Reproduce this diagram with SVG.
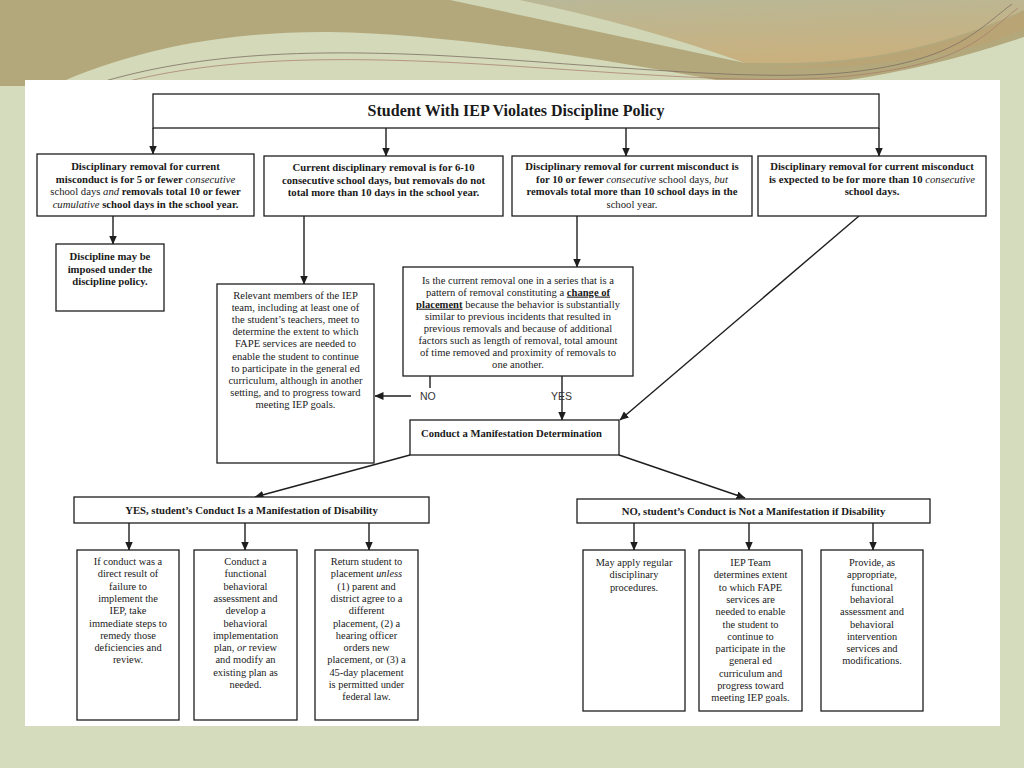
<svg xmlns="http://www.w3.org/2000/svg" width="1024" height="768" viewBox="0 0 1024 768">
<style>
.box{fill:#fff;stroke:#1e1e1e;stroke-width:1.3}
.t{font-family:"Liberation Serif","Times New Roman",serif;font-size:10.4px;fill:#1a1a1a;text-anchor:middle}
.r1{font-size:10.7px}
.b{font-weight:bold}
.i{font-style:italic;font-weight:normal}
.n{font-weight:normal}
.u{text-decoration:underline}
.lbl{font-family:"Liberation Sans",Arial,sans-serif;font-size:10.5px;fill:#333}
.c{stroke:#1e1e1e;stroke-width:1.4;fill:none}
</style>
<defs>
<marker id="ah" markerWidth="9" markerHeight="8" refX="8.5" refY="4" orient="auto" markerUnits="userSpaceOnUse">
<path d="M0,0 L9,4 L0,8 Z" fill="#1e1e1e"/>
</marker>
<linearGradient id="gold" x1="0" y1="0" x2="0.3" y2="1">
<stop offset="0" stop-color="#b8b898"/>
<stop offset="1" stop-color="#c9b17f"/>
</linearGradient>
</defs>
<!-- background -->
<rect x="0" y="0" width="1024" height="768" fill="#d5dbbd"/>
<path d="M0,0 H1024 V37 C950,62 880,78 800,86 L0,86 Z" fill="#b3a87c"/>
<path d="M40,92 C120,52 220,31 330,32 C450,34 600,58 770,90 Z" fill="#d3d9b9"/>
<path d="M470,0 H1024 V10 C960,40 880,62 790,63 L745,63 Q640,25 520,0 Z" fill="url(#gold)"/>
<path d="M1024,12 C960,42 880,64 790,66 L760,68 C880,70 960,55 1024,30 Z" fill="#bca273" opacity="0.7"/>
<path d="M450,0 L520,0 Q640,25 745,63 Q600,32 450,0 Z" fill="#d1d7b6"/>
<path d="M95,84 C200,52 320,46 512,60 S800,82 880,68 S980,28 1012,4" fill="none" stroke="#7c6e62" stroke-width="0.8"/>
<path d="M110,86 C210,58 330,54 512,66 S790,86 880,72 S985,34 1018,8" fill="none" stroke="#a8786a" stroke-width="0.7"/>
<rect x="25" y="80" width="975" height="646" fill="#fff"/>

<g id="connectors">
<path class="c" d="M153,128 V154" marker-end="url(#ah)"/>
<path class="c" d="M386,128 V156" marker-end="url(#ah)"/>
<path class="c" d="M626,128 V156" marker-end="url(#ah)"/>
<path class="c" d="M879,128 V156" marker-end="url(#ah)"/>
<path class="c" d="M113,216 V244" marker-end="url(#ah)"/>
<path class="c" d="M304,216 V284" marker-end="url(#ah)"/>
<path class="c" d="M577,216 V267" marker-end="url(#ah)"/>
<path class="c" d="M859,216 L620,420" marker-end="url(#ah)"/>
<path class="c" d="M430,376 V388"/>
<path class="c" d="M411,396 H375" marker-end="url(#ah)"/>
<path class="c" d="M562,376 V420" marker-end="url(#ah)"/>
<path class="c" d="M410,455 L255,497" marker-end="url(#ah)"/>
<path class="c" d="M619,455 L745,498" marker-end="url(#ah)"/>
<path class="c" d="M129,523 V550" marker-end="url(#ah)"/>
<path class="c" d="M245,523 V550" marker-end="url(#ah)"/>
<path class="c" d="M369,523 V550" marker-end="url(#ah)"/>
<path class="c" d="M634,523 V550" marker-end="url(#ah)"/>
<path class="c" d="M749,523 V550" marker-end="url(#ah)"/>
<path class="c" d="M873,523 V550" marker-end="url(#ah)"/>
<text class="lbl" x="420" y="400">NO</text>
<text class="lbl" x="551" y="400">YES</text>
</g>

<g id="top">
<rect class="box" x="153" y="94" width="726" height="34"/>
<text class="t b" x="516" y="116" style="font-size:16px">Student With IEP Violates Discipline Policy</text>
</g>

<g id="r1">
<rect class="box" x="37" y="154" width="217" height="62"/>
<text class="t r1 b"><tspan x="145.5" y="170">Disciplinary removal for current</tspan><tspan x="145.5" y="182.5">misconduct is for 5 or fewer <tspan class="i">consecutive</tspan></tspan><tspan x="145.5" y="195"><tspan class="n">school days</tspan> <tspan class="i">and</tspan> removals total 10 or fewer</tspan><tspan x="145.5" y="207.5"><tspan class="i">cumulative</tspan> school days in the school year.</tspan></text>
</g>
<g id="r2">
<rect class="box" x="264" y="156" width="239" height="60"/>
<text class="t r1 b"><tspan x="383.5" y="171">Current disciplinary removal is for 6-10</tspan><tspan x="383.5" y="183.5">consecutive school days, but removals do not</tspan><tspan x="383.5" y="196">total more than 10 days in the school year.</tspan></text>
</g>
<g id="r3">
<rect class="box" x="512" y="156" width="240" height="60"/>
<text class="t r1 b"><tspan x="632" y="170">Disciplinary removal for current misconduct is</tspan><tspan x="632" y="182.5">for 10 or fewer <tspan class="i">consecutive</tspan> <tspan class="n">school days,</tspan> <tspan class="i">but</tspan></tspan><tspan x="632" y="195">removals total more than 10 school days in the</tspan><tspan x="632" y="207.5" class="n">school year.</tspan></text>
</g>
<g id="r4">
<rect class="box" x="758" y="156" width="228" height="60"/>
<text class="t r1 b"><tspan x="872" y="170">Disciplinary removal for current misconduct</tspan><tspan x="872" y="182.5">is expected to be for more than 10 <tspan class="i">consecutive</tspan></tspan><tspan x="872" y="195">school days.</tspan></text>
</g>

<g id="discipline">
<rect class="box" x="56" y="244" width="108" height="67"/>
<text class="t r1 b"><tspan x="110" y="260">Discipline may be</tspan><tspan x="110" y="272.5">imposed under the</tspan><tspan x="110" y="285">discipline policy.</tspan></text>
</g>

<g id="relevant">
<rect class="box" x="217" y="284" width="157" height="179"/>
<text class="t" style="font-size:10.6px"><tspan x="295.5" y="298.5">Relevant members of the IEP</tspan><tspan x="295.5" y="310.7">team, including at least one of</tspan><tspan x="295.5" y="322.9">the student’s teachers, meet to</tspan><tspan x="295.5" y="335.1">determine the extent to which</tspan><tspan x="295.5" y="347.3">FAPE services are needed to</tspan><tspan x="295.5" y="359.5">enable the student to continue</tspan><tspan x="295.5" y="371.7">to participate in the general ed</tspan><tspan x="295.5" y="383.9">curriculum, although in another</tspan><tspan x="295.5" y="396.1">setting, and to progress toward</tspan><tspan x="295.5" y="408.3">meeting IEP goals.</tspan></text>
</g>

<g id="series">
<rect class="box" x="403" y="267" width="230" height="109"/>
<text class="t" style="font-size:10.6px"><tspan x="518" y="283.5">Is the current removal one in a series that is a</tspan><tspan x="518" y="295.6">pattern of removal constituting a <tspan class="b u">change of</tspan></tspan><tspan x="518" y="307.7"><tspan class="b u">placement</tspan> because the behavior is substantially</tspan><tspan x="518" y="319.8">similar to previous incidents that resulted in</tspan><tspan x="518" y="331.9">previous removals and because of additional</tspan><tspan x="518" y="344">factors such as length of removal, total amount</tspan><tspan x="518" y="356.1">of time removed and proximity of removals to</tspan><tspan x="518" y="368.2">one another.</tspan></text>
</g>

<g id="conduct">
<rect class="box" x="410" y="420" width="209" height="35"/>
<text class="t b" x="421" y="436.5" style="text-anchor:start;font-size:10.6px">Conduct a Manifestation Determination</text>
</g>

<g id="yes">
<rect class="box" x="74" y="497" width="355" height="26"/>
<text class="t r1 b" x="251.5" y="514">YES, student’s Conduct Is a Manifestation of Disability</text>
</g>
<g id="no">
<rect class="box" x="577" y="499" width="353" height="24"/>
<text class="t r1 b" x="753.5" y="515">NO, student’s Conduct is Not a Manifestation if Disability</text>
</g>

<g id="y1">
<rect class="box" x="77" y="550" width="102" height="170"/>
<text class="t"><tspan x="128" y="565">If conduct was a</tspan><tspan x="128" y="577.3">direct result of</tspan><tspan x="128" y="589.6">failure to</tspan><tspan x="128" y="601.9">implement the</tspan><tspan x="128" y="614.2">IEP, take</tspan><tspan x="128" y="626.5">immediate steps to</tspan><tspan x="128" y="638.8">remedy those</tspan><tspan x="128" y="651.1">deficiencies and</tspan><tspan x="128" y="663.4">review.</tspan></text>
</g>
<g id="y2">
<rect class="box" x="194" y="550" width="103" height="170"/>
<text class="t"><tspan x="245.5" y="565">Conduct a</tspan><tspan x="245.5" y="577.3">functional</tspan><tspan x="245.5" y="589.6">behavioral</tspan><tspan x="245.5" y="601.9">assessment and</tspan><tspan x="245.5" y="614.2">develop a</tspan><tspan x="245.5" y="626.5">behavioral</tspan><tspan x="245.5" y="638.8">implementation</tspan><tspan x="245.5" y="651.1">plan, <tspan class="i">or</tspan> review</tspan><tspan x="245.5" y="663.4">and modify an</tspan><tspan x="245.5" y="675.7">existing plan as</tspan><tspan x="245.5" y="688">needed.</tspan></text>
</g>
<g id="y3">
<rect class="box" x="315" y="550" width="103" height="170"/>
<text class="t"><tspan x="366.5" y="565">Return student to</tspan><tspan x="366.5" y="577.3">placement <tspan class="i">unless</tspan></tspan><tspan x="366.5" y="589.6">(1) parent and</tspan><tspan x="366.5" y="601.9">district agree to a</tspan><tspan x="366.5" y="614.2">different</tspan><tspan x="366.5" y="626.5">placement, (2) a</tspan><tspan x="366.5" y="638.8">hearing officer</tspan><tspan x="366.5" y="651.1">orders new</tspan><tspan x="366.5" y="663.4">placement, or (3) a</tspan><tspan x="366.5" y="675.7">45-day placement</tspan><tspan x="366.5" y="688">is permitted under</tspan><tspan x="366.5" y="700.3">federal law.</tspan></text>
</g>

<g id="n1">
<rect class="box" x="583" y="550" width="102" height="161"/>
<text class="t"><tspan x="634" y="566">May apply regular</tspan><tspan x="634" y="578.3">disciplinary</tspan><tspan x="634" y="590.6">procedures.</tspan></text>
</g>
<g id="n2">
<rect class="box" x="699" y="550" width="103" height="161"/>
<text class="t"><tspan x="750.5" y="566">IEP Team</tspan><tspan x="750.5" y="578.3">determines extent</tspan><tspan x="750.5" y="590.6">to which FAPE</tspan><tspan x="750.5" y="602.9">services are</tspan><tspan x="750.5" y="615.2">needed to enable</tspan><tspan x="750.5" y="627.5">the student to</tspan><tspan x="750.5" y="639.8">continue to</tspan><tspan x="750.5" y="652.1">participate in the</tspan><tspan x="750.5" y="664.4">general ed</tspan><tspan x="750.5" y="676.7">curriculum and</tspan><tspan x="750.5" y="689">progress toward</tspan><tspan x="750.5" y="701.3">meeting IEP goals.</tspan></text>
</g>
<g id="n3">
<rect class="box" x="821" y="550" width="102" height="161"/>
<text class="t"><tspan x="872" y="566">Provide, as</tspan><tspan x="872" y="578.3">appropriate,</tspan><tspan x="872" y="590.6">functional</tspan><tspan x="872" y="602.9">behavioral</tspan><tspan x="872" y="615.2">assessment and</tspan><tspan x="872" y="627.5">behavioral</tspan><tspan x="872" y="639.8">intervention</tspan><tspan x="872" y="652.1">services and</tspan><tspan x="872" y="664.4">modifications.</tspan></text>
</g>
</svg>
